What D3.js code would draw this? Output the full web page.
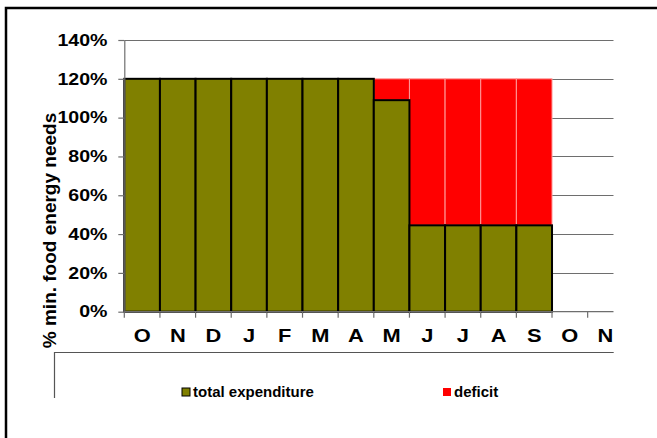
<!DOCTYPE html>
<html>
<head>
<meta charset="utf-8">
<script src="https://cdn.jsdelivr.net/npm/d3@7"></script>
<style>
  body { margin: 0; background: #fff; }
  svg { display: block; font-family: "Liberation Sans", Arial, sans-serif; font-weight: bold; }
</style>
</head>
<body>
<div id="chart"></div>
<script>
// Chart data
var months = ["O", "N", "D", "J", "F", "M", "A", "M", "J", "J", "A", "S", "O", "N"];
var totalExpenditure = [120, 120, 120, 120, 120, 120, 120, 109, 44.5, 44.5, 44.5, 44.5, 0, 0];
var deficit = [0, 0, 0, 0, 0, 0, 0, 11, 75.5, 75.5, 75.5, 75.5, 0, 0];
var yTicks = [0, 20, 40, 60, 80, 100, 120, 140];
var seriesNames = ["total expenditure", "deficit"];
var seriesColors = ["#808000", "#ff0000"];

var svg_Width = 657;
var svg_Height = 438;

// plot area (the last category runs past the visible edge and gets clipped)
var plot = { left: 124.3, top: 40, bottom: 311.7, clipRight: 613.7, bandRight: 623.3 };

var svg = d3.select("#chart")
  .append("svg")
  .attr("width", svg_Width)
  .attr("height", svg_Height);

svg.append("defs").append("clipPath")
  .attr("id", "plotClip")
  .append("rect")
  .attr("x", 0).attr("y", 0)
  .attr("width", plot.clipRight).attr("height", svg_Height);

var xBand_Scale = d3.scaleBand()
  .domain(d3.range(months.length))
  .range([plot.left, plot.bandRight])
  .padding(0);

var yLinear_Scale = d3.scaleLinear()
  .domain([0, 140])
  .range([plot.bottom, plot.top]);

// outer frame (only top and left edges are visible)
svg.append("path")
  .attr("d", "M6,438V8H657")
  .attr("fill", "none")
  .attr("stroke", "#000")
  .attr("stroke-width", 2.5);

var clipped = svg.append("g").attr("clip-path", "url(#plotClip)");

// gridlines
clipped.selectAll(".grid")
  .data(yTicks.filter(d => d > 0))
  .enter()
  .append("line")
  .attr("x1", plot.left)
  .attr("x2", plot.clipRight)
  .attr("y1", d => Math.round(yLinear_Scale(d)) + 0.5)
  .attr("y2", d => Math.round(yLinear_Scale(d)) + 0.5)
  .attr("stroke", "#6e6e6e")
  .attr("stroke-width", 1.2);

// deficit bars stacked on top of the expenditure
clipped.selectAll(".deficit")
  .data(d3.range(months.length).filter(i => deficit[i] > 0))
  .enter()
  .append("rect")
  .attr("x", i => xBand_Scale(i))
  .attr("y", i => yLinear_Scale(totalExpenditure[i] + deficit[i]))
  .attr("width", xBand_Scale.bandwidth())
  .attr("height", i => yLinear_Scale(totalExpenditure[i]) - yLinear_Scale(totalExpenditure[i] + deficit[i]))
  .attr("fill", seriesColors[1])
  .attr("stroke", "#ff9a9a")
  .attr("stroke-width", 1);

// expenditure bars
clipped.selectAll(".total")
  .data(d3.range(months.length).filter(i => totalExpenditure[i] > 0))
  .enter()
  .append("rect")
  .attr("x", i => xBand_Scale(i))
  .attr("y", i => yLinear_Scale(totalExpenditure[i]))
  .attr("width", xBand_Scale.bandwidth())
  .attr("height", i => plot.bottom - yLinear_Scale(totalExpenditure[i]))
  .attr("fill", seriesColors[0])
  .attr("stroke", "#000")
  .attr("stroke-width", 2);

// x axis line and ticks at category boundaries
clipped.append("line")
  .attr("x1", plot.left).attr("x2", plot.clipRight)
  .attr("y1", plot.bottom).attr("y2", plot.bottom)
  .attr("stroke", "#6e6e6e").attr("stroke-width", 1.2);

clipped.selectAll(".xtick")
  .data(d3.range(months.length + 1))
  .enter()
  .append("line")
  .attr("x1", i => i < months.length ? xBand_Scale(i) : plot.bandRight)
  .attr("x2", i => i < months.length ? xBand_Scale(i) : plot.bandRight)
  .attr("y1", plot.bottom)
  .attr("y2", plot.bottom + 6)
  .attr("stroke", "#6e6e6e")
  .attr("stroke-width", 1.2);

// x labels (stretched a little sideways, like the original)
var bottom_Axis = d3.axisBottom(xBand_Scale)
  .tickFormat(i => months[i])
  .tickSize(0)
  .tickPadding(17);

var xAxis = clipped.append("g")
  .attr("transform", `translate(0, ${plot.bottom})`)
  .call(bottom_Axis);
xAxis.select(".domain").remove();
xAxis.selectAll("text")
  .attr("font-size", 19)
  .attr("font-family", "Liberation Sans, Arial, sans-serif")
  .attr("font-weight", "bold")
  .attr("fill", "#000")
  .attr("transform", "scale(1.15,1)");

// y axis
var left_Axis = d3.axisLeft(yLinear_Scale)
  .tickValues(yTicks)
  .tickFormat(d => d + "%")
  .tickSizeInner(6)
  .tickSizeOuter(0)
  .tickPadding(8);

var yAxis = svg.append("g")
  .attr("transform", `translate(${plot.left}, 0)`)
  .call(left_Axis);
yAxis.select(".domain").attr("stroke", "#6e6e6e").attr("stroke-width", 1.2);
yAxis.selectAll(".tick line").attr("stroke", "#6e6e6e").attr("stroke-width", 1.2);
yAxis.selectAll("text")
  .attr("font-size", 16.3)
  .attr("font-family", "Liberation Sans, Arial, sans-serif")
  .attr("font-weight", "bold")
  .attr("fill", "#000")
  .attr("transform", "scale(1.2,1)");

// y axis title
svg.append("text")
  .attr("transform", "translate(56, 230.5) rotate(-90)")
  .attr("text-anchor", "middle")
  .attr("font-size", 19)
  .text("% min. food energy needs");

// legend frame lines
svg.append("path")
  .attr("d", `M54.5,398V352.5H${plot.clipRight}`)
  .attr("fill", "none")
  .attr("stroke", "#555")
  .attr("stroke-width", 1.2);

// legend
var legendX = [182, 443];
var legend = svg.selectAll(".legend")
  .data(seriesNames)
  .enter()
  .append("g")
  .attr("transform", (d, i) => `translate(${legendX[i]}, 388)`);

legend.append("rect")
  .attr("width", 8).attr("height", 8)
  .attr("fill", (d, i) => seriesColors[i])
  .attr("stroke", (d, i) => i === 0 ? "#000" : "none")
  .attr("stroke-width", 1);

legend.append("text")
  .attr("x", 11)
  .attr("y", 9)
  .attr("font-size", 15)
  .text(d => d);
</script>
</body>
</html>
